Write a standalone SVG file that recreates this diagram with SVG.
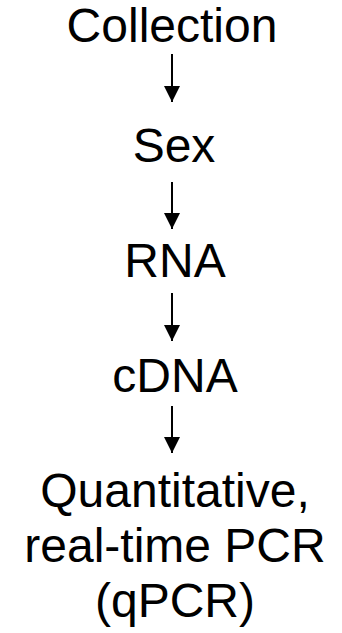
<svg xmlns="http://www.w3.org/2000/svg" width="342" height="633" viewBox="0 0 342 633">
<style>
text{font-family:"Liberation Sans",Arial,sans-serif;font-size:48px;fill:#000;text-anchor:middle}
.c line{stroke:#000;stroke-width:2}
</style>
<defs>
<marker id="ah" viewBox="0 0 16 16" refX="16" refY="8" markerWidth="16" markerHeight="16" markerUnits="userSpaceOnUse" orient="auto">
<path d="M0,0 L16,8 L0,16 Z" fill="#000"/>
</marker>
</defs>
<rect width="342" height="633" fill="#fff"/>
<g id="collection"><text x="172" y="42">Collection</text></g>
<g id="sex"><text x="174" y="162">Sex</text></g>
<g id="rna"><text x="175" y="277">RNA</text></g>
<g id="cdna"><text x="175" y="392">cDNA</text></g>
<g id="qpcr"><text x="175" y="507">Quantitative,</text><text x="175" y="562">real-time PCR</text><text x="175" y="617">(qPCR)</text></g>
<g class="c" id="connectors">
<line x1="172" y1="54" x2="172" y2="102" marker-end="url(#ah)"/>
<line x1="172" y1="182" x2="172" y2="229" marker-end="url(#ah)"/>
<line x1="172" y1="293" x2="172" y2="341" marker-end="url(#ah)"/>
<line x1="172" y1="406" x2="172" y2="453" marker-end="url(#ah)"/>
</g>
</svg>
